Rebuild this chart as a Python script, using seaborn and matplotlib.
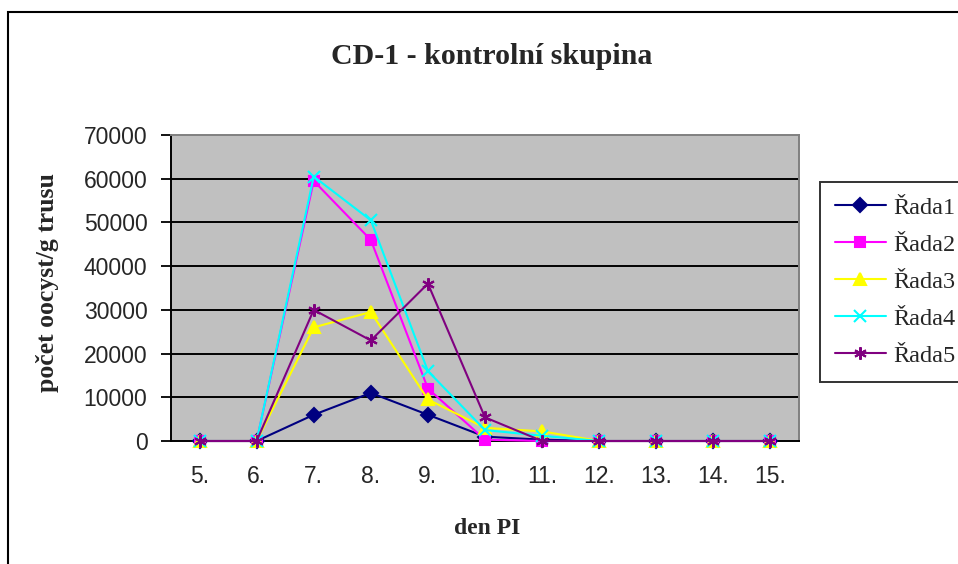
import numpy as np
import pandas as pd
import seaborn as sns
import matplotlib
matplotlib.use("Agg")
import matplotlib.pyplot as plt
from matplotlib.patches import Rectangle

# ---- data ----
days = ["5.", "6.", "7.", "8.", "9.", "10.", "11.", "12.", "13.", "14.", "15."]
rada1 = [0, 0, 6000, 11000, 6000, 1000, 300, 0, 0, 0, 0]
rada2 = [0, 0, 59500, 46000, 12000, 300, 0, 0, 0, 0, 0]
rada3 = [0, 0, 26000, 29500, 9500, 3000, 2200, 0, 0, 0, 0]
rada4 = [0, 0, 60500, 50500, 16000, 2500, 1200, 0, 0, 0, 0]
rada5 = [0, 0, 30000, 23000, 36000, 5400, 0, 0, 0, 0, 0]
series_names = ["Řada1", "Řada2", "Řada3", "Řada4", "Řada5"]
series_values = [rada1, rada2, rada3, rada4, rada5]
y_ticks = [0, 10000, 20000, 30000, 40000, 50000, 60000, 70000]
title = "CD-1 - kontrolní skupina"
xlabel = "den PI"
ylabel = "počet oocyst/g trusu"

colors = ["#000080", "#FF00FF", "#FFFF00", "#00FFFF", "#800080"]
markers = ["D", "s", "^", "x", (6, 2, 0)]
msizes = [7.5, 7.5, 9, 8, 9]

df = pd.DataFrame({
    "den": days * len(series_names),
    "value": sum(series_values, []),
    "series": np.repeat(series_names, len(days)),
})

sns.set_style("white")
W, H = 958, 564
fig = plt.figure(figsize=(W / 100, H / 100), dpi=100)
fig.patch.set_facecolor("white")

# outer chart frame (extends past right and bottom edges like the reference)
fig.patches.append(Rectangle((8 / W, -0.1), 1.2, 1 - 12 / H + 0.1,
                             transform=fig.transFigure, fill=False,
                             edgecolor="black", linewidth=1.5, zorder=0))

ax = fig.add_axes([171 / W, 1 - 441 / H, (799 - 171) / W, (441 - 135) / H])
ax.set_facecolor("#C0C0C0")

for name, col, mk, ms in zip(series_names, colors, markers, msizes):
    sub = df[df["series"] == name]
    sns.lineplot(data=sub, x="den", y="value", ax=ax, color=col, marker=mk,
                 markersize=ms, markeredgecolor=col, markerfacecolor=col,
                 markeredgewidth=1.5, linewidth=1.5, sort=False, label=name,
                 clip_on=False, zorder=3)

ax.set_xlim(-0.5, len(days) - 0.5)
ax.set_ylim(0, 70000)
ax.set_yticks(y_ticks)
ax.set_yticklabels([str(v) for v in y_ticks], fontfamily="Liberation Sans", fontsize=16.5)
ax.set_xticks(range(len(days)))
ax.set_xticklabels(days, fontfamily="Liberation Sans", fontsize=16.5)
ax.set_xticks(np.arange(-0.5, len(days), 1), minor=True)
ax.tick_params(axis="x", which="major", length=0, pad=17)
ax.tick_params(axis="x", which="minor", length=7, width=1.3, color="black", direction="out")
ax.tick_params(axis="y", which="major", length=7, width=1.3, color="black", direction="out", pad=10, left=True)

for v in y_ticks[1:-1]:
    ax.axhline(v, color="black", linewidth=1.4, zorder=1)

for s in ["left", "bottom"]:
    ax.spines[s].set_color("black")
    ax.spines[s].set_linewidth(1.4)
for s in ["top", "right"]:
    ax.spines[s].set_color("#808080")
    ax.spines[s].set_linewidth(1.4)

ax.set_xlabel("")
ax.set_ylabel("")
fig.text(487 / W, 1 - 528 / H, xlabel, ha="center", va="center",
         fontfamily="Liberation Serif", fontweight="bold", fontsize=17)
fig.text(48 / W, 1 - 283 / H, ylabel, ha="center", va="center", rotation=90,
         fontfamily="Liberation Serif", fontweight="bold", fontsize=18.5)
fig.text(492 / W, 1 - 57 / H, title, ha="center", va="center",
         fontfamily="Liberation Serif", fontweight="bold", fontsize=21.5)

leg = ax.legend(loc="upper left", bbox_to_anchor=(820 / W, 1 - 182 / H),
                bbox_transform=fig.transFigure, borderaxespad=0,
                prop={"family": "Liberation Serif", "size": 17.5},
                handlelength=2.1, handletextpad=0.3, labelspacing=0.62,
                borderpad=0.6, frameon=True, fancybox=False)
leg.get_frame().set_edgecolor("black")
leg.get_frame().set_linewidth(1.4)
leg.get_frame().set_facecolor("white")

fig.savefig("out.png", dpi=100)
